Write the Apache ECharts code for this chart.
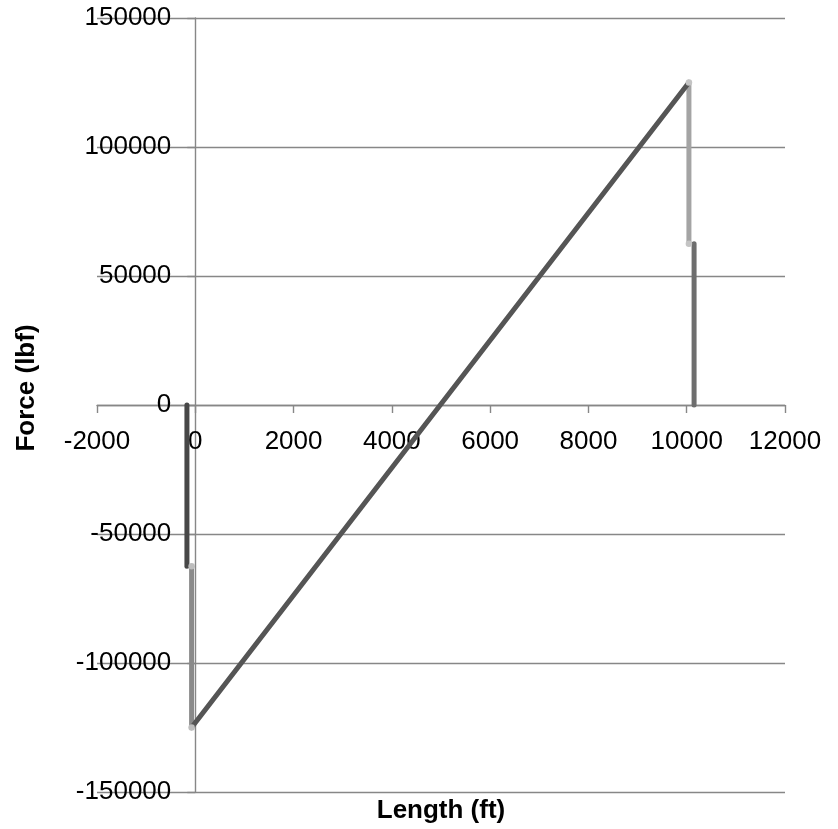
<!DOCTYPE html>
<html>
<head>
<meta charset="utf-8">
<script src="https://cdn.jsdelivr.net/npm/echarts@6/dist/echarts.min.js"></script>
<style>
  html, body { margin: 0; padding: 0; background: #ffffff; }
  #chart { width: 838px; height: 829px; }
</style>
</head>
<body>
<div id="chart"></div>
<script>
// Shear force along the member (lbf) against position (ft)
const leftOuterX = [-170, -170];
const leftOuterForce = [0, -62500];
const leftInnerX = [-75, -75];
const leftInnerForce = [-62500, -125000];
const spanX = [-75, 10045];
const spanForce = [-125000, 125000];
const rightInnerX = [10045, 10045];
const rightInnerForce = [125000, 62500];
const rightOuterX = [10150, 10150];
const rightOuterForce = [62500, 0];

const xAxisTitle = 'Length (ft)';
const yAxisTitle = 'Force (lbf)';

const X_MIN = -2000, X_MAX = 12000, X_STEP = 2000;
const Y_MIN = -150000, Y_MAX = 150000, Y_STEP = 50000;

const FONT = '"Liberation Sans", Arial, sans-serif';
const FONT_SIZE = 26;
const AXIS_GRAY = '#878787';

// plot rectangle in pixels
const GRID = { left: 97, right: 53, top: 18, bottom: 37 };
const W = 838, H = 829;
const plotW = W - GRID.left - GRID.right;
const plotH = H - GRID.top - GRID.bottom;
// the axes cross at zero: shift each axis from the grid edge to the zero line
const yAxisShift = -plotW * (0 - X_MIN) / (X_MAX - X_MIN);
const xAxisShift = -plotH * (0 - Y_MIN) / (Y_MAX - Y_MIN);

function pairs(xs, ys) {
  return xs.map((x, i) => [x, ys[i]]);
}

function plain(v) {
  return String(v);
}

function segment(name, xs, ys, color, dotColor) {
  return {
    name: name,
    type: 'line',
    data: pairs(xs, ys),
    showSymbol: !!dotColor,
    symbol: 'circle',
    symbolSize: 6.5,
    itemStyle: { color: dotColor || color },
    lineStyle: { color: color, width: 5, cap: 'round', join: 'round' },
    emphasis: { disabled: true },
    z: 2
  };
}

const chart = echarts.init(document.getElementById('chart'), null, { renderer: 'canvas' });

chart.setOption({
  animation: false,
  backgroundColor: '#ffffff',
  grid: Object.assign({ containLabel: false, outerBoundsMode: 'none' }, GRID),
  xAxis: {
    type: 'value',
    min: X_MIN,
    max: X_MAX,
    interval: X_STEP,
    offset: xAxisShift,
    name: xAxisTitle,
    nameLocation: 'middle',
    nameGap: 393,
    nameTextStyle: { fontFamily: FONT, fontSize: FONT_SIZE, fontWeight: 'bold', color: '#000000' },
    axisLine: { onZero: false, lineStyle: { color: AXIS_GRAY, width: 1.4 } },
    axisTick: { show: true, length: 8, lineStyle: { color: AXIS_GRAY, width: 1.4 } },
    axisLabel: { margin: 24, fontFamily: FONT, fontSize: FONT_SIZE, color: '#000000', formatter: plain },
    splitLine: { show: false }
  },
  yAxis: {
    type: 'value',
    min: Y_MIN,
    max: Y_MAX,
    interval: Y_STEP,
    offset: yAxisShift,
    name: yAxisTitle,
    nameLocation: 'middle',
    nameGap: 155,
    nameTextStyle: { fontFamily: FONT, fontSize: FONT_SIZE, fontWeight: 'bold', color: '#000000', padding: [0, 0, 0, 34] },
    axisLine: { onZero: false, lineStyle: { color: AXIS_GRAY, width: 1.4 } },
    axisTick: { show: true, length: 8, lineStyle: { color: AXIS_GRAY, width: 1.4 } },
    axisLabel: { margin: 24, fontFamily: FONT, fontSize: FONT_SIZE, color: '#000000', formatter: plain },
    splitLine: { show: true, lineStyle: { color: AXIS_GRAY, width: 1.4 } }
  },
  series: [
    segment('Left support, inner', leftInnerX, leftInnerForce, '#8a8a8a', '#bdbdbd'),
    segment('Right support, inner', rightInnerX, rightInnerForce, '#a4a4a4', '#c4c4c4'),
    segment('Left support, outer', leftOuterX, leftOuterForce, '#474747', null),
    segment('Right support, outer', rightOuterX, rightOuterForce, '#6e6e6e', null),
    segment('Span', spanX, spanForce, '#555555', null)
  ]
});
</script>
</body>
</html>
